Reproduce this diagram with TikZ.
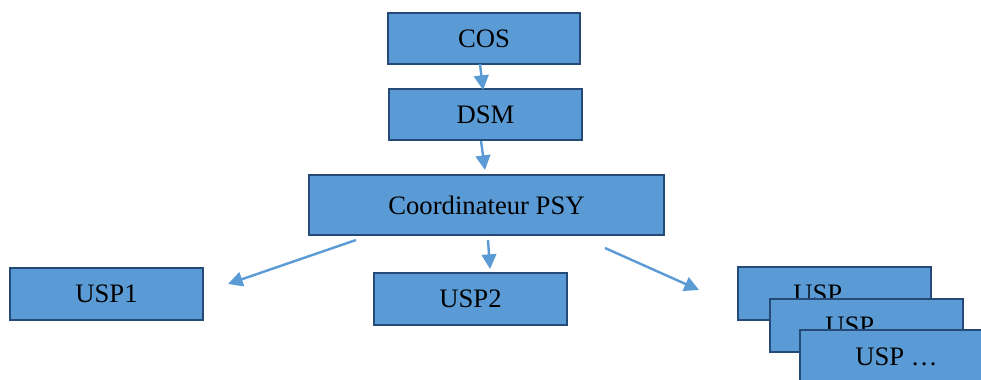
\documentclass[tikz,border=0pt]{standalone}
\usepackage{fontspec}
\setmainfont{Liberation Serif}
\usetikzlibrary{arrows.meta}
\definecolor{boxfill}{HTML}{5B9BD5}
\definecolor{boxline}{HTML}{264A78}
\definecolor{arrowc}{HTML}{5B9BD5}
\tikzset{
  ubox/.style={draw=boxline, fill=boxfill, line width=1.8pt, inner sep=0pt, outer sep=0pt,
    font=\fontsize{20pt}{22pt}\selectfont, text=black},
  conn/.style={draw=arrowc, line width=1.8pt, -{Triangle[length=11pt,width=11pt]}}
}
\begin{document}
\begin{tikzpicture}[x=0.75pt,y=-0.75pt]
\clip (0,0) rectangle (981,379);
\fill[white] (0,0) rectangle (981,379);
% boxes
\node[ubox, minimum width=192*0.75pt, minimum height=51*0.75pt] (cos) at (484,38.5) {COS};
\node[ubox, minimum width=193*0.75pt, minimum height=51*0.75pt] (dsm) at (485.5,114.5) {DSM};
\node[ubox, minimum width=355*0.75pt, minimum height=60*0.75pt] (coord) at (486.5,205) {Coordinateur PSY};
\node[ubox, minimum width=193*0.75pt, minimum height=52*0.75pt] (usp1) at (106.5,294) {USP1};
\node[ubox, minimum width=193*0.75pt, minimum height=52*0.75pt] (usp2) at (470.5,299) {USP2};
\node[ubox, minimum width=193*0.75pt, minimum height=53*0.75pt] (uspa) at (834.5,293.5) {USP …};
\node[ubox, minimum width=193*0.75pt, minimum height=53*0.75pt] (uspb) at (866.5,325.5) {USP …};
\node[ubox, minimum width=193*0.75pt, minimum height=53*0.75pt] (uspc) at (896.5,356.5) {USP …};
% connector end points
\coordinate (c1s) at (480,64);
\coordinate (c1e) at (483,90);
\coordinate (c2s) at (481,141);
\coordinate (c2e) at (485,170);
\coordinate (c3s) at (356,240);
\coordinate (c3e) at (228,284);
\coordinate (c4s) at (488,240);
\coordinate (c4e) at (490,269);
\coordinate (c5s) at (605,248);
\coordinate (c5e) at (699,290);
\draw[conn] (c1s) -- (c1e);
\draw[conn] (c2s) -- (c2e);
\draw[conn] (c3s) -- (c3e);
\draw[conn] (c4s) -- (c4e);
\draw[conn] (c5s) -- (c5e);
\end{tikzpicture}
\end{document}
